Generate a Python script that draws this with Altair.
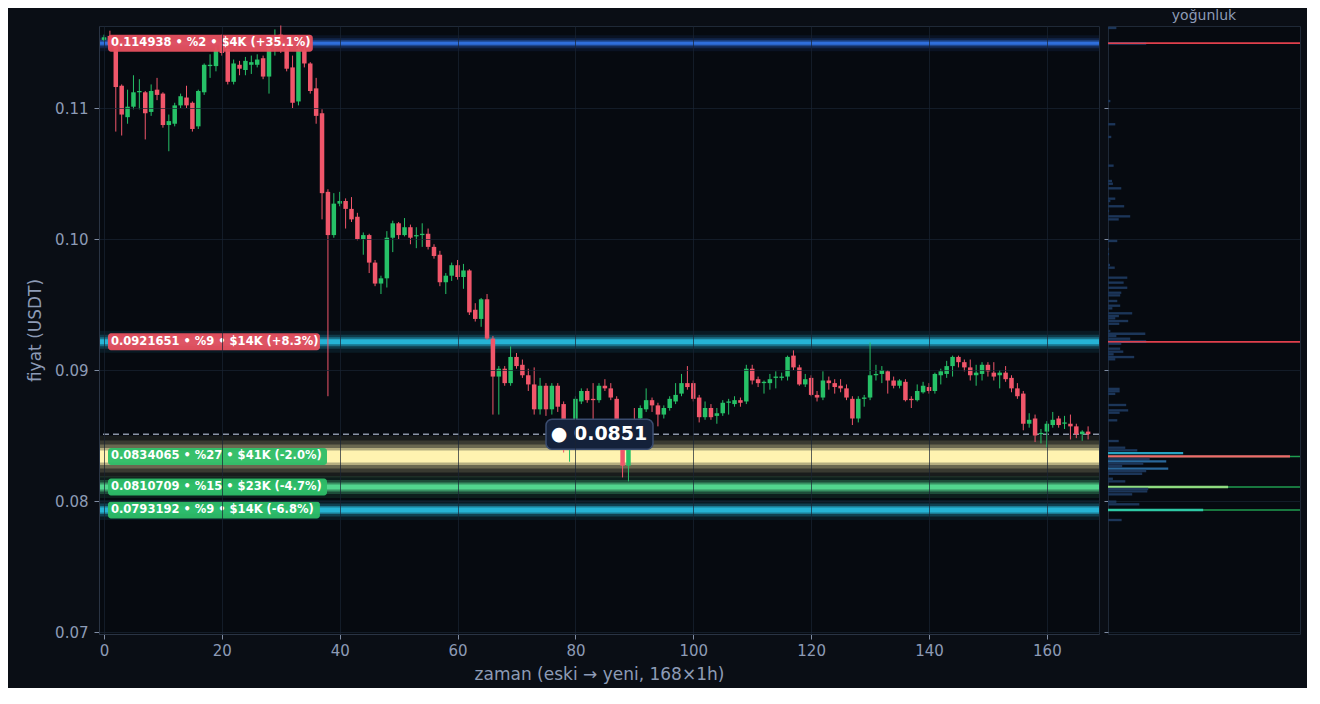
import altair as alt
import pandas as pd

# ---------------- data ----------------
opens = [
0.1152,0.1155,0.1150,0.1117,0.1093,0.1101,0.1112,0.1112,0.1097,0.1114,
0.1111,0.1087,0.1088,0.1102,0.1108,0.1104,0.1086,0.1112,0.1132,0.1132,
0.1150,0.1145,0.1120,0.1133,0.1129,0.1133,0.1133,0.1138,0.1124,0.1146,
0.1156,0.1146,0.1131,0.1105,0.1144,0.1134,0.1115,0.1096,0.1036,0.1003,
0.1027,0.1029,0.1023,0.1017,0.1000,0.1003,0.0982,0.0966,0.0970,0.1001,
0.1012,0.1003,0.1009,0.1002,0.1003,0.1004,0.0994,0.0988,0.0967,0.0972,
0.0980,0.0971,0.0976,0.0946,0.0939,0.0954,0.0924,0.0895,0.0901,0.0890,
0.0910,0.0904,0.0896,0.0889,0.0870,0.0888,0.0870,0.0888,0.0874,0.0850,
0.0861,0.0876,0.0884,0.0878,0.0877,0.0888,0.0886,0.0878,0.0860,0.0827,
0.0860,0.0863,0.0870,0.0877,0.0873,0.0866,0.0871,0.0876,0.0882,0.0890,
0.0890,0.0879,0.0864,0.0871,0.0865,0.0867,0.0875,0.0874,0.0877,0.0876,
0.0901,0.0893,0.0890,0.0890,0.0894,0.0894,0.0895,0.0911,0.0902,0.0889,
0.0894,0.0881,0.0879,0.0892,0.0890,0.0888,0.0886,0.0878,0.0863,0.0878,
0.0879,0.0896,0.0897,0.0899,0.0892,0.0888,0.0891,0.0878,0.0877,0.0883,
0.0887,0.0884,0.0896,0.0897,0.0903,0.0910,0.0906,0.0902,0.0896,0.0897,
0.0904,0.0898,0.0896,0.0898,0.0894,0.0886,0.0882,0.0859,0.0863,0.0851,
0.0853,0.0858,0.0863,0.0859,0.0859,0.0857,0.0851,0.0853,
]
closes = [
0.1154,0.1148,0.1116,0.1095,0.1101,0.1112,0.1113,0.1096,0.1113,0.1110,
0.1087,0.1090,0.1102,0.1109,0.1102,0.1084,0.1113,0.1133,0.1133,0.1144,
0.1142,0.1120,0.1134,0.1130,0.1136,0.1135,0.1137,0.1124,0.1146,0.1152,
0.1150,0.1130,0.1104,0.1145,0.1134,0.1113,0.1094,0.1035,0.1003,0.1027,
0.1029,0.1023,0.1015,0.1000,0.1003,0.0982,0.0966,0.0970,0.1001,0.1012,
0.1003,0.1009,0.1001,0.1003,0.1004,0.0994,0.0987,0.0967,0.0972,0.0980,
0.0971,0.0976,0.0944,0.0939,0.0954,0.0924,0.0895,0.0901,0.0890,0.0910,
0.0903,0.0896,0.0889,0.0870,0.0888,0.0870,0.0888,0.0872,0.0853,0.0856,
0.0878,0.0884,0.0877,0.0877,0.0888,0.0886,0.0879,0.0860,0.0827,0.0858,
0.0855,0.0871,0.0877,0.0873,0.0866,0.0871,0.0878,0.0881,0.0890,0.0887,
0.0878,0.0864,0.0871,0.0864,0.0867,0.0875,0.0876,0.0877,0.0875,0.0901,
0.0892,0.0890,0.0891,0.0893,0.0895,0.0895,0.0910,0.0902,0.0889,0.0893,
0.0881,0.0879,0.0892,0.0890,0.0887,0.0886,0.0879,0.0863,0.0878,0.0879,
0.0896,0.0897,0.0900,0.0892,0.0888,0.0892,0.0877,0.0877,0.0884,0.0888,
0.0884,0.0897,0.0899,0.0903,0.0910,0.0906,0.0902,0.0896,0.0898,0.0904,
0.0899,0.0895,0.0898,0.0893,0.0886,0.0880,0.0859,0.0862,0.0850,0.0852,
0.0859,0.0862,0.0858,0.0860,0.0857,0.0851,0.0853,0.0851,
]
highs = [
0.1156,0.1159,0.1152,0.1118,0.1114,0.1125,0.1122,0.1113,0.1118,0.1123,
0.1112,0.1095,0.1104,0.1111,0.1117,0.1105,0.1114,0.1134,0.1141,0.1147,
0.1156,0.1148,0.1137,0.1136,0.1139,0.1140,0.1141,0.1140,0.1148,0.1160,
0.1163,0.1150,0.1140,0.1150,0.1152,0.1135,0.1123,0.1099,0.1038,0.1035,
0.1036,0.1031,0.1032,0.1020,0.1005,0.1004,0.0984,0.0972,0.1006,0.1014,
0.1013,0.1016,0.1011,0.1009,0.1012,0.1008,0.0996,0.0991,0.0974,0.0982,
0.0984,0.0981,0.0977,0.0951,0.0955,0.0958,0.0926,0.0903,0.0903,0.0918,
0.0913,0.0908,0.0901,0.0902,0.0894,0.0890,0.0890,0.0890,0.0876,0.0860,
0.0880,0.0886,0.0886,0.0890,0.0890,0.0893,0.0890,0.0880,0.0862,0.0860,
0.0871,0.0873,0.0886,0.0879,0.0875,0.0873,0.0880,0.0890,0.0897,0.0903,
0.0892,0.0881,0.0876,0.0874,0.0871,0.0877,0.0878,0.0880,0.0879,0.0904,
0.0904,0.0895,0.0892,0.0897,0.0899,0.0898,0.0911,0.0915,0.0904,0.0897,
0.0896,0.0884,0.0899,0.0895,0.0893,0.0893,0.0889,0.0880,0.0880,0.0881,
0.0921,0.0904,0.0903,0.0900,0.0895,0.0893,0.0893,0.0880,0.0889,0.0891,
0.0890,0.0898,0.0901,0.0907,0.0911,0.0911,0.0908,0.0908,0.0904,0.0906,
0.0906,0.0906,0.0900,0.0903,0.0896,0.0890,0.0884,0.0867,0.0866,0.0855,
0.0861,0.0868,0.0865,0.0865,0.0866,0.0859,0.0854,0.0857,
]
lows = [
0.1151,0.1146,0.1082,0.1079,0.1088,0.1099,0.1099,0.1076,0.1094,0.1106,
0.1085,0.1067,0.1086,0.1100,0.1100,0.1082,0.1084,0.1110,0.1123,0.1128,
0.1140,0.1118,0.1118,0.1125,0.1125,0.1126,0.1131,0.1122,0.1111,0.1140,
0.1142,0.1128,0.1100,0.1102,0.1131,0.1111,0.1088,0.1015,0.0880,0.1001,
0.1025,0.1008,0.1013,0.0999,0.0988,0.0974,0.0964,0.0958,0.0963,0.0990,
0.1000,0.1002,0.0996,0.0993,0.0994,0.0992,0.0985,0.0964,0.0958,0.0968,
0.0969,0.0962,0.0942,0.0937,0.0933,0.0923,0.0866,0.0866,0.0888,0.0888,
0.0901,0.0894,0.0884,0.0866,0.0866,0.0865,0.0866,0.0868,0.0837,0.0830,
0.0858,0.0874,0.0875,0.0861,0.0875,0.0884,0.0877,0.0857,0.0818,0.0815,
0.0853,0.0860,0.0868,0.0868,0.0857,0.0863,0.0869,0.0874,0.0880,0.0885,
0.0876,0.0860,0.0862,0.0862,0.0859,0.0865,0.0866,0.0872,0.0872,0.0874,
0.0889,0.0887,0.0882,0.0885,0.0886,0.0892,0.0892,0.0900,0.0888,0.0887,
0.0880,0.0876,0.0877,0.0885,0.0882,0.0883,0.0877,0.0858,0.0860,0.0872,
0.0877,0.0892,0.0890,0.0882,0.0886,0.0886,0.0876,0.0871,0.0876,0.0882,
0.0882,0.0882,0.0889,0.0894,0.0895,0.0902,0.0899,0.0892,0.0888,0.0892,
0.0895,0.0892,0.0886,0.0891,0.0883,0.0878,0.0854,0.0856,0.0845,0.0844,
0.0841,0.0856,0.0856,0.0855,0.0847,0.0848,0.0846,0.0847,
]

level_prices = [0.114938, 0.0921651, 0.0834065, 0.0810709, 0.0793192]
level_price_txt = ["0.114938", "0.0921651", "0.0834065", "0.0810709", "0.0793192"]
level_pct = [2, 9, 27, 15, 9]
level_usd_k = [4, 14, 41, 23, 14]
level_change = [35.1, 8.3, -2.0, -4.7, -6.8]

hist_prices = [0.11611, 0.114938, 0.11053, 0.10876, 0.10779, 0.10560, 0.10443, 0.10422, 0.10387, 0.10308,
               0.10290, 0.10250, 0.10214, 0.10173, 0.10150, 0.09985, 0.09924, 0.09885, 0.09802, 0.09781,
               0.09705, 0.09667, 0.09628, 0.09590, 0.09570, 0.09527, 0.09491, 0.09471, 0.09433, 0.09412,
               0.09395, 0.09374, 0.09353, 0.09298, 0.09277, 0.09260, 0.09239, 0.0921651, 0.09201, 0.09163,
               0.09140, 0.09120, 0.09099, 0.09082, 0.08856, 0.08838, 0.08818, 0.08733, 0.08692, 0.08674,
               0.08616, 0.08458, 0.08407, 0.08387, 0.08366, 0.0834065, 0.08321, 0.08303, 0.08285, 0.08267,
               0.08247, 0.08229, 0.08208, 0.08170, 0.08150, 0.0810709, 0.08092, 0.08074, 0.08051, 0.07995,
               0.07975, 0.0793192, 0.07855]
hist_values = [4.6, 21.0, 1.3, 4.0, 1.8, 3.1, 2.2, 2.7, 7.3, 4.0,
               1.3, 8.9, 0.6, 12.2, 5.9, 5.1, 0.6, 0.6, 1.1, 3.7,
               10.6, 8.6, 10.6, 7.3, 6.7, 5.1, 6.7, 2.4, 13.3, 6.0,
               4.0, 11.1, 6.2, 1.3, 20.5, 4.6, 12.2, 21.0, 7.3, 6.7,
               8.4, 3.1, 14.4, 4.0, 6.4, 6.4, 4.0, 10.0, 11.1, 6.4,
               5.1, 5.9, 9.5, 16.1, 41.3, 100, 22.9, 32.0, 19.4, 7.8,
               33.1, 21.0, 18.8, 2.7, 9.5, 66.0, 22.1, 21.6, 13.3, 4.6,
               17.2, 52.3, 7.5]

x_ticks = [0, 20, 40, 60, 80, 100, 120, 140, 160]
y_ticks = [0.07, 0.08, 0.09, 0.10, 0.11]

# ---------------- styles ----------------
BG = "#0a0e15"
PLOT_BG = "#060a10"
GREEN = "#26c167"
RED = "#f0566a"
AX = "#8d9bb5"
n = len(closes)
current = closes[-1]

band_styles = [
    dict(color="#2f6fdc", core=3, glow=[(16, 0.10), (10, 0.22), (6, 0.45)]),
    dict(color="#25b4d6", core=5, glow=[(22, 0.10), (14, 0.22), (9, 0.45)]),
    dict(color="#fff3b0", core=12, glow=[(42, 0.08), (32, 0.14), (24, 0.25), (17, 0.5)]),
    dict(color="#52d68e", core=5, glow=[(22, 0.10), (14, 0.25), (9, 0.5)]),
    dict(color="#26b3d5", core=5, glow=[(20, 0.10), (13, 0.25), (8, 0.5)]),
]
hist_level_colors = ["#34528a", "#34528a", "#ef6a6a", "#8edb7f", "#2ec9a5"]
hist_line_colors = ["#e0404c", "#e0404c", "#1f9d4f", "#1f9d4f", "#1f9d4f"]

yscale = alt.Scale(domain=[0.06985, 0.11626], nice=False, zero=False)
xscale = alt.Scale(domain=[0, n], nice=False, zero=False)

YAX = alt.Axis(values=y_ticks, format=".2f", title="fiyat (USDT)", grid=True,
               tickSize=5, labelPadding=6, titlePadding=10, zindex=1)
XAX = alt.Axis(values=x_ticks, title="zaman (eski \u2192 yeni, 168\u00d71h)",
               labelFlush=False, grid=True, tickSize=5, labelPadding=4, titlePadding=8, zindex=1)


def Y(field):
    return alt.Y(field, scale=yscale, axis=YAX)


def X(field):
    return alt.X(field, scale=xscale, axis=XAX)


# ---------------- main chart ----------------
cdf = pd.DataFrame({"t": list(range(n)), "open": opens, "close": closes,
                    "high": highs, "low": lows})
cdf["high"] = cdf[["high", "open", "close"]].max(axis=1)
cdf["low"] = cdf[["low", "open", "close"]].min(axis=1)
cdf["dir"] = ["up" if c >= o else "down" for o, c in zip(opens, closes)]
dir_color = alt.Color("dir:N", scale=alt.Scale(domain=["up", "down"], range=[GREEN, RED]), legend=None)


def band(d, color, w, o):
    return alt.Chart(d).mark_rect(color=color, opacity=o, yOffset=-w / 2, y2Offset=w / 2).encode(
        x=alt.value(0), x2=alt.value("width"), y=Y("p:Q"), y2="p:Q")


layers = []
for p, st in zip(level_prices, band_styles):
    d = pd.DataFrame({"p": [p]})
    for w, o in st["glow"]:
        layers.append(band(d, st["color"], w, o))
    layers.append(band(d, st["color"], st["core"], 1))

cur_df = pd.DataFrame({"p": [current], "t": [n / 2], "label": [f"\u25cf {current:.4f}"]})
layers.append(alt.Chart(cur_df).mark_rule(color="#8a94a6", strokeDash=[6, 4], strokeWidth=1.5)
              .encode(y=Y("p:Q")))

wicks = alt.Chart(cdf).mark_rule(strokeWidth=1).encode(
    x=X("t:Q"), y=Y("low:Q"), y2="high:Q", color=dir_color)
bodies = alt.Chart(cdf).mark_bar(size=4.5).encode(
    x=X("t:Q"), y=Y("open:Q"), y2="close:Q", color=dir_color)
layers += [wicks, bodies]

for i, p in enumerate(level_prices):
    txt = f"{level_price_txt[i]} \u2022 %{level_pct[i]} \u2022 ${level_usd_k[i]}K ({level_change[i]:+.1f}%)"
    bg = "#e8505f" if p > current else "#2dbd67"
    w = 7.1 * len(txt) + 6
    d = pd.DataFrame({"p": [p], "label": [txt]})
    layers.append(alt.Chart(d).mark_rect(color=bg, cornerRadius=3, opacity=0.95,
                                         yOffset=-8.5, y2Offset=8.5)
                  .encode(x=alt.value(9), x2=alt.value(9 + w), y=Y("p:Q"), y2="p:Q"))
    layers.append(alt.Chart(d).mark_text(align="left", baseline="middle", font="DejaVu Sans",
                                         fontWeight="bold", fontSize=11.5, color="white")
                  .encode(x=alt.value(12), y=Y("p:Q"), text="label:N"))

layers.append(alt.Chart(cur_df).mark_rect(color="#14213a", stroke="#3b4d70", strokeWidth=1.5,
                                          cornerRadius=6, xOffset=-53, x2Offset=54,
                                          yOffset=-15, y2Offset=15)
              .encode(x=X("t:Q"), x2="t:Q", y=Y("p:Q"), y2="p:Q"))
layers.append(alt.Chart(cur_df).mark_text(align="center", baseline="middle", font="DejaVu Sans",
                                          fontWeight="bold", fontSize=19, color="white")
              .encode(x=X("t:Q"), y=Y("p:Q"), text="label:N"))

main = alt.layer(*layers).properties(width=1000, height=608)

# ---------------- density panel ----------------
HYAX = alt.Axis(values=y_ticks, labels=False, title=None, tickSize=4, grid=True, domain=False)


def HY(field):
    return alt.Y(field, scale=yscale, axis=HYAX)


def bar_color(p, v):
    for lp, c in zip(level_prices, hist_level_colors):
        if abs(p - lp) < 1e-7:
            return c
    if v >= 40:
        return "#26a3c3"
    if v >= 25:
        return "#2a679a"
    return "#1c3659"


half = 0.00009
hdf = pd.DataFrame({"p": hist_prices, "v": hist_values})
hdf["lo"] = hdf["p"] - half
hdf["hi"] = hdf["p"] + half
hdf["x0"] = 0.0
hdf["col"] = [bar_color(p, v) for p, v in zip(hist_prices, hist_values)]

hx = alt.Scale(domain=[0, 105.5], nice=False, zero=True)
ldf = pd.DataFrame({"p": level_prices, "col": hist_line_colors})

hist_lines = alt.Chart(ldf).mark_rule(strokeWidth=1.5).encode(
    y=HY("p:Q"), color=alt.Color("col:N", scale=None))
hist_bars = alt.Chart(hdf).mark_rect().encode(
    x=alt.X("x0:Q", scale=hx, axis=None), x2="v:Q",
    y=HY("lo:Q"), y2="hi:Q",
    color=alt.Color("col:N", scale=None))
red_lines = alt.Chart(ldf[ldf["col"] == "#e0404c"]).mark_rule(strokeWidth=1.5).encode(
    y=HY("p:Q"), color=alt.Color("col:N", scale=None))
hist_title = alt.Chart(pd.DataFrame({"a": [0]})).mark_text(
    text="yo\u011funluk", fontSize=14, color=AX, font="DejaVu Sans", baseline="middle"
).encode(x=alt.value(96), y=alt.value(-10))

hist = alt.layer(hist_lines, hist_bars, red_lines, hist_title).properties(width=192, height=608)

chart = alt.hconcat(main, hist, spacing=2).properties(
    background=BG,
    padding={"left": 18, "top": 0, "right": 5, "bottom": 5},
).configure_view(
    fill=PLOT_BG, stroke="#1f2937"
).configure_axis(
    labelColor=AX, titleColor=AX, labelFontSize=15, titleFontSize=17,
    titleFontWeight="normal", labelFont="DejaVu Sans", titleFont="DejaVu Sans",
    gridColor="#1a2433", gridOpacity=0.7, domainColor="#2a3444", tickColor="#7f8ca3",
).configure_text(font="DejaVu Sans")

chart.save("out.html", embed_options={"renderer": "svg", "actions": False})
